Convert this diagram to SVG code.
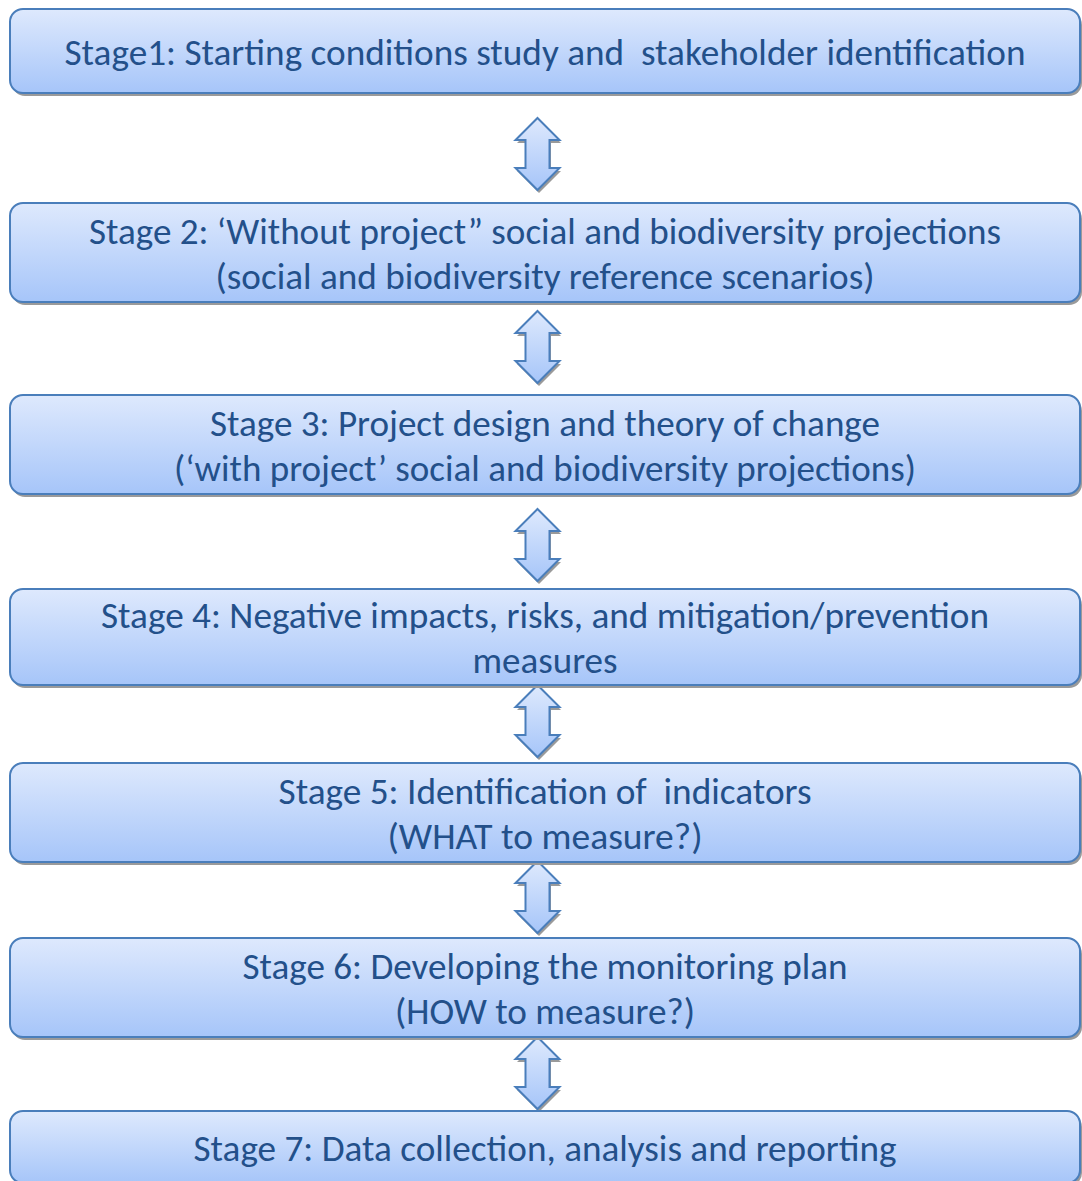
<svg xmlns="http://www.w3.org/2000/svg" width="1082" height="1181" viewBox="0 0 1082 1181">
<defs>
<linearGradient id="g" x1="0" y1="0" x2="0" y2="1">
<stop offset="0" stop-color="#DEE9FD"/>
<stop offset="1" stop-color="#A6C5F9"/>
</linearGradient>
<style>
.box{fill:url(#g);stroke:#4A7EBB;stroke-width:2}
.sh{fill:#9A9A9A}
.t{font-family:Carlito,Calibri,Lato,"Open Sans",sans-serif;font-size:37px;fill:#23508A;text-anchor:middle}
.ar{fill:url(#g);stroke:#4A7EBB;stroke-width:2;stroke-linejoin:miter}
</style>
<path id="arr" d="M0,0 L22,22 L12,22 L12,50 L22,50 L0,72 L-22,50 L-12,50 L-12,22 L-22,22 Z"/>
</defs>
<rect width="1082" height="1181" fill="#FFFFFF"/>
<g id="connectors">
<g transform="translate(537.5,118)"><use href="#arr" class="sh" x="1.5" y="3"/><use href="#arr" class="ar"/></g>
<g transform="translate(537.5,311)"><use href="#arr" class="sh" x="1.5" y="3"/><use href="#arr" class="ar"/></g>
<g transform="translate(537.5,509)"><use href="#arr" class="sh" x="1.5" y="3"/><use href="#arr" class="ar"/></g>
<g transform="translate(537.5,685)"><use href="#arr" class="sh" x="1.5" y="3"/><use href="#arr" class="ar"/></g>
<g transform="translate(537.5,861)"><use href="#arr" class="sh" x="1.5" y="3"/><use href="#arr" class="ar"/></g>
<g transform="translate(537.5,1037)"><use href="#arr" class="sh" x="1.5" y="3"/><use href="#arr" class="ar"/></g>
</g>
<g id="stage1">
<rect class="sh" x="12" y="12" width="1070" height="84" rx="13"/>
<rect class="box" x="10" y="9" width="1070" height="84" rx="13"/>
<text class="t" x="545" y="64.5" textLength="961" lengthAdjust="spacingAndGlyphs" xml:space="preserve">Stage1: Starting conditions study and  stakeholder identification</text>
</g>
<g id="stage2">
<rect class="sh" x="12" y="206" width="1070" height="99" rx="13"/>
<rect class="box" x="10" y="203" width="1070" height="99" rx="13"/>
<text class="t" x="545" y="243.5" textLength="912" lengthAdjust="spacingAndGlyphs">Stage 2: ‘Without project” social and biodiversity projections</text>
<text class="t" x="545" y="288.5" textLength="659" lengthAdjust="spacingAndGlyphs">(social and biodiversity reference scenarios)</text>
</g>
<g id="stage3">
<rect class="sh" x="12" y="398" width="1070" height="99" rx="13"/>
<rect class="box" x="10" y="395" width="1070" height="99" rx="13"/>
<text class="t" x="545" y="435.5" textLength="670" lengthAdjust="spacingAndGlyphs">Stage 3: Project design and theory of change</text>
<text class="t" x="545" y="480.5" textLength="742" lengthAdjust="spacingAndGlyphs">(‘with project’ social and biodiversity projections)</text>
</g>
<g id="stage4">
<rect class="sh" x="12" y="592" width="1070" height="96" rx="13"/>
<rect class="box" x="10" y="589" width="1070" height="96" rx="13"/>
<text class="t" x="545" y="628" textLength="888" lengthAdjust="spacingAndGlyphs">Stage 4: Negative impacts, risks, and mitigation/prevention</text>
<text class="t" x="545" y="673" textLength="145" lengthAdjust="spacingAndGlyphs">measures</text>
</g>
<g id="stage5">
<rect class="sh" x="12" y="766" width="1070" height="99" rx="13"/>
<rect class="box" x="10" y="763" width="1070" height="99" rx="13"/>
<text class="t" x="545" y="803.5" textLength="533" lengthAdjust="spacingAndGlyphs" xml:space="preserve">Stage 5: Identification of  indicators</text>
<text class="t" x="545" y="848.5" textLength="315" lengthAdjust="spacingAndGlyphs">(WHAT to measure?)</text>
</g>
<g id="stage6">
<rect class="sh" x="12" y="941" width="1070" height="99" rx="13"/>
<rect class="box" x="10" y="938" width="1070" height="99" rx="13"/>
<text class="t" x="545" y="978.5" textLength="605" lengthAdjust="spacingAndGlyphs">Stage 6: Developing the monitoring plan</text>
<text class="t" x="545" y="1023.5" textLength="300" lengthAdjust="spacingAndGlyphs">(HOW to measure?)</text>
</g>
<g id="stage7">
<rect class="sh" x="12" y="1114" width="1070" height="72" rx="13"/>
<rect class="box" x="10" y="1111" width="1070" height="72" rx="13"/>
<text class="t" x="545" y="1160.5" textLength="703" lengthAdjust="spacingAndGlyphs">Stage 7: Data collection, analysis and reporting</text>
</g>
</svg>
